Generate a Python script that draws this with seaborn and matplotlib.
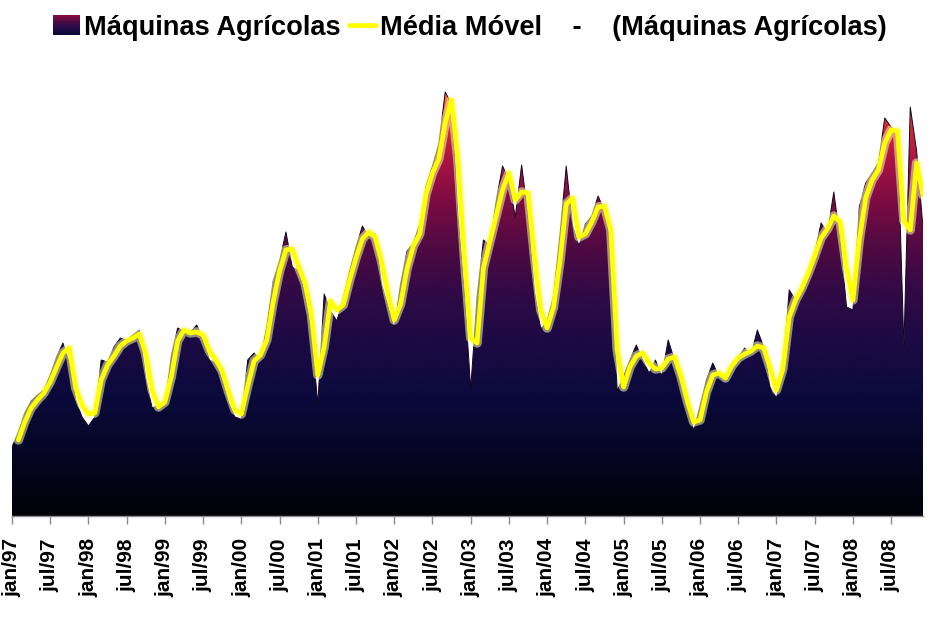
import numpy as np
import pandas as pd
import matplotlib
matplotlib.use("Agg")
import matplotlib.pyplot as plt
import seaborn as sns
from matplotlib.colors import LinearSegmentedColormap
from matplotlib.lines import Line2D
from matplotlib.patches import Rectangle, Polygon
from matplotlib.legend_handler import HandlerBase
import matplotlib.patheffects as pe

# ---------------- data (monthly, jan/97 .. dez/08) ----------------
maquinas = [
    69, 84, 103, 115, 121, 126, 141, 159, 173, 153, 116, 99,      # 1997
    90, 99, 156, 154, 169, 178, 176, 181, 186, 138, 108, 111,     # 1998
    110, 160, 188, 185, 184, 191, 176, 156, 153, 136, 113, 99,    # 1999
    97, 156, 163, 156, 190, 235, 255, 284, 249, 245, 222, 183,    # 2000
    112, 222, 205, 195, 218, 245, 269, 290, 279, 282, 232, 210,   # 2001
    188, 232, 265, 273, 292, 330, 350, 372, 424, 412, 300, 225,   # 2002
    127, 219, 276, 271, 315, 350, 336, 299, 351, 300, 225, 187,   # 2003
    195, 220, 280, 350, 290, 270, 292, 300, 320, 305, 270, 125,   # 2004
    140, 156, 171, 156, 143, 156, 140, 176, 156, 143, 116, 85,    # 2005
    110, 136, 153, 139, 136, 153, 159, 168, 161, 186, 169, 129,   # 2006
    118, 146, 226, 216, 229, 243, 263, 293, 283, 324, 276, 209,   # 2007
    206, 309, 333, 343, 353, 398, 389, 383, 169, 409, 365, 288,   # 2008
]
media_movel = [
    np.nan, 76, 94, 108, 116, 123, 134, 149, 163, 168, 128, 111,
    102, 103, 136, 151, 160, 170, 175, 178, 182, 162, 126, 109,
    114, 139, 175, 186, 183, 184, 181, 165, 156, 145, 124, 106,
    102, 130, 155, 161, 176, 214, 245, 266, 267, 249, 233, 201,
    141, 169, 215, 206, 211, 236, 258, 277, 284, 279, 255, 223,
    196, 212, 247, 270, 282, 322, 343, 357, 393, 416, 356, 259,
    178, 173, 248, 274, 300, 326, 343, 316, 324, 323, 260, 206,
    188, 209, 254, 312, 318, 279, 282, 294, 309, 310, 286, 166,
    129, 149, 160, 163, 153, 147, 148, 157, 159, 140, 115, 94,
    96, 124, 141, 143, 138, 150, 158, 162, 165, 170, 168, 148,
    126, 147, 199, 216, 228, 243, 260, 278, 287, 300, 294, 248,
    216, 276, 318, 336, 346, 373, 386, 385, 295, 286, 353, 321,
]
tick_labels = [
    "jan/97", "jul/97", "jan/98", "jul/98", "jan/99", "jul/99",
    "jan/00", "jul/00", "jan/01", "jul/01", "jan/02", "jul/02",
    "jan/03", "jul/03", "jan/04", "jul/04", "jan/05", "jul/05",
    "jan/06", "jul/06", "jan/07", "jul/07", "jan/08", "jul/08",
]
serie_label = "Máquinas Agrícolas"
mm_label = "Média Móvel    -    (Máquinas Agrícolas)"

df = pd.DataFrame({"mes": np.arange(len(maquinas)),
                   "maquinas": maquinas,
                   "media": media_movel})

# ---------------- style ----------------
sns.set_theme(style="white")
plt.rcParams["font.family"] = ["Liberation Sans", "DejaVu Sans"]
plt.rcParams["text.color"] = "black"

grad_cmap = LinearSegmentedColormap.from_list(
    "fill",
    [(0.00, "#020208"), (0.12, "#050520"), (0.27, "#0b0a3c"),
     (0.40, "#1c0a44"), (0.52, "#340a46"), (0.62, "#530a42"),
     (0.72, "#7e0c42"), (0.81, "#aa1446"), (0.89, "#cf3030"),
     (0.95, "#f06c1e"), (1.00, "#ffa020")])

fig = plt.figure(figsize=(9.38, 6.34), dpi=100)
ax = fig.add_axes([12 / 938, 118 / 634, 911 / 938, 440 / 634])
YMAX = 440
ax.set_xlim(0, len(maquinas) - 1)
ax.set_ylim(0, YMAX)

# gradient area clipped to the data polygon
verts = [(0, 0)] + list(zip(df["mes"], df["maquinas"])) + [(len(maquinas) - 1, 0)]
poly = Polygon(verts, closed=True, facecolor="none", edgecolor="none",
               transform=ax.transData)
ax.add_patch(poly)
grad = np.linspace(0, 1, 512).reshape(-1, 1)
im = ax.imshow(grad, extent=[0, len(maquinas) - 1, 0, YMAX], origin="lower",
               aspect="auto", cmap=grad_cmap, zorder=1, interpolation="bicubic")
im.set_clip_path(poly)

# dark top edge of the area
sns.lineplot(data=df, x="mes", y="maquinas", ax=ax, color="#14061e",
             linewidth=0.7, zorder=2, legend=False)

# moving average (yellow, with soft glow)
sns.lineplot(data=df, x="mes", y="media", ax=ax, color="#ffff00",
             linewidth=3.4, zorder=3, legend=False,
             path_effects=[pe.Stroke(linewidth=6.8, foreground="#fbfbb0", alpha=0.55),
                           pe.Normal()])

# axes
for s in ("left", "top", "right"):
    ax.spines[s].set_visible(False)
ax.spines["bottom"].set_color("#8c8c8c")
ax.spines["bottom"].set_linewidth(1.0)
ax.set_yticks([])
ax.set_xticks(np.arange(0, len(maquinas), 6))
ax.set_xticklabels(tick_labels, rotation=90, fontsize=15, fontweight="bold",
                   color="black")
ax.tick_params(axis="x", bottom=True, length=6, width=1, color="#8c8c8c", pad=10)
ax.set_xlabel("")
ax.set_ylabel("")


# legend with gradient square handle
class GradHandler(HandlerBase):
    def create_artists(self, legend, orig_handle, xdescent, ydescent,
                       width, height, fontsize, trans):
        arts = []
        n = 12
        for k in range(n):
            c = grad_cmap(0.25 + 0.5 * (k + 0.5) / n)
            r = Rectangle((-xdescent, -ydescent + height * k / n), width,
                          height / n + 0.3, facecolor=c, edgecolor="none",
                          transform=trans)
            arts.append(r)
        return arts


area_handle = Rectangle((0, 0), 1, 1)
line_handle = Line2D([0], [0], color="#ffff00", linewidth=3.4)
leg = fig.legend([area_handle, line_handle], [serie_label, mm_label],
                 handler_map={Rectangle: GradHandler()},
                 loc="center", bbox_to_anchor=(470 / 938, 1 - 28 / 634),
                 ncol=2, frameon=False,
                 prop={"size": 19.6, "weight": "bold"},
                 handlelength=1.0, handleheight=0.75, handletextpad=0.15,
                 columnspacing=0.3)
for t in leg.get_texts():
    t.set_color("black")

fig.savefig("out.png", dpi=100, facecolor="white")
